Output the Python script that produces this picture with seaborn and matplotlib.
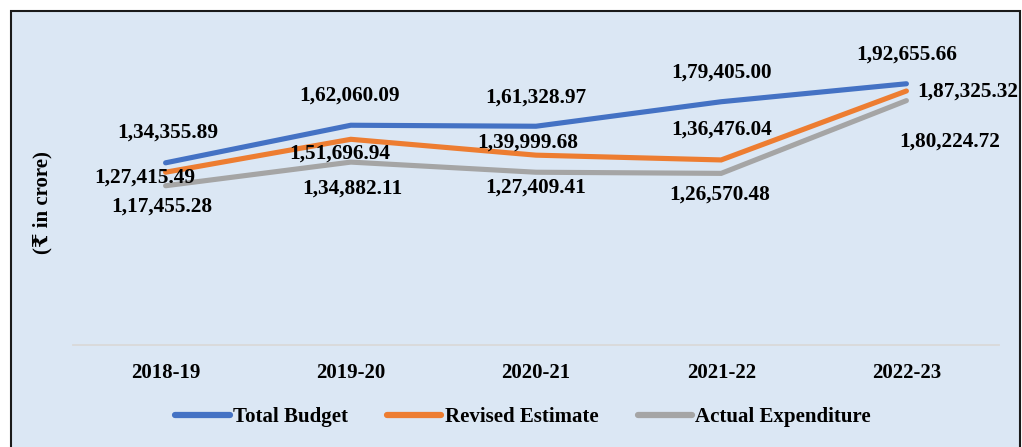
import matplotlib
matplotlib.use("Agg")
import matplotlib.pyplot as plt
from matplotlib.patches import Rectangle
from matplotlib.lines import Line2D
import pandas as pd
import seaborn as sns

# Financial years and the three budget series (₹ in crore)
years = ["2018-19", "2019-20", "2020-21", "2021-22", "2022-23"]
total_budget = [134355.89, 162060.09, 161328.97, 179405.00, 192655.66]
revised_estimate = [127415.49, 151696.94, 139999.68, 136476.04, 187325.32]
actual_expenditure = [117455.28, 134882.11, 127409.41, 126570.48, 180224.72]
series_names = ["Total Budget", "Revised Estimate", "Actual Expenditure"]
series_colors = ["#4472C4", "#ED7D31", "#A5A5A5"]

# Label offsets (pixels) relative to each point
label_offsets = {
    "Total Budget": [(2, 30), (-1, 30), (0, 29), (0, 29), (0, 29)],
    "Revised Estimate": [(-21, -5), (-11, -14), (-8, 13), (0, 30), (61, -1)],
    "Actual Expenditure": [(-4, -21), (2, -26), (0, -15), (-2, -21), (43, -41)],
}

df = pd.DataFrame({
    "Year": years * 3,
    "Value": total_budget + revised_estimate + actual_expenditure,
    "Series": [s for s in series_names for _ in years],
})


def indian_format(v):
    """Format a value with Indian digit grouping, e.g. 1,34,355.89."""
    cents = int(round(v * 100))
    whole, frac = divmod(cents, 100)
    lakh, rest = divmod(whole, 100000)
    return f"{lakh},{rest // 1000:02d},{rest % 1000:03d}.{frac:02d}"


sns.set_theme(style="white")
plt.rcParams["font.family"] = ["Liberation Serif", "DejaVu Serif", "DejaVu Sans"]
plt.rcParams["font.weight"] = "bold"
plt.rcParams["text.color"] = "black"

W, H = 1022, 447
fig = plt.figure(figsize=(W / 100, H / 100), dpi=100, facecolor="white")

# Chart area panel with border
fig.patches.append(Rectangle((11 / W, -0.05), (1020 - 11) / W, (H - 11) / H + 0.05,
                             transform=fig.transFigure, facecolor="#dbe7f4",
                             edgecolor="#1a1a1a", linewidth=1.5, zorder=-5))

ax = fig.add_axes([73 / W, 1 - 345 / H, (999 - 73) / W, 339 / H])
ax.set_facecolor("none")
ax.set_zorder(2)

sns.lineplot(data=df, x="Year", y="Value", hue="Series", hue_order=series_names,
             palette=series_colors, linewidth=3.7, sort=False, ax=ax, legend=False)
for line in ax.lines:
    line.set_solid_capstyle("round")
    line.set_solid_joinstyle("miter")

ax.set_xlim(-0.5, 4.5)
ax.set_ylim(0, 250000)
ax.set_yticks([])
ax.set_ylabel("")
ax.set_xlabel("")
for side in ["top", "right", "left"]:
    ax.spines[side].set_visible(False)
ax.spines["bottom"].set_color("#d9d9d9")
ax.spines["bottom"].set_linewidth(1.3)

ax.set_xticks(range(len(years)))
ax.set_xticklabels(years, fontsize=15, fontweight="bold", color="black")
ax.set_xticks([i - 0.5 for i in range(len(years) + 1)], minor=True)
ax.tick_params(axis="x", which="major", length=0, pad=13)
ax.tick_params(axis="x", which="minor", length=4, width=1.3, color="#d9d9d9", direction="out")

# Data labels
series_values = {"Total Budget": total_budget, "Revised Estimate": revised_estimate,
                 "Actual Expenditure": actual_expenditure}
for name in series_names:
    for i, v in enumerate(series_values[name]):
        dx, dy = label_offsets[name][i]
        ax.annotate(indian_format(v), (i, v), xytext=(dx, dy), textcoords="offset pixels",
                    ha="center", va="center", fontsize=15.3, fontweight="bold",
                    color="black", annotation_clip=False)

fig.text(42 / W, 1 - 203 / H, "(₹ in crore)", rotation=90, ha="center", va="center",
         fontsize=15, fontweight="bold", color="black")

# Legend
handles = [Line2D([0], [0], color=c, linewidth=4.5, solid_capstyle="round") for c in series_colors]
leg = fig.legend(handles, series_names, loc="center", bbox_to_anchor=(523 / W, 1 - 417 / H),
                 ncol=3, frameon=False, fontsize=15, handlelength=2.6, handletextpad=0.15,
                 columnspacing=1.9, borderpad=0)
for t in leg.get_texts():
    t.set_fontweight("bold")
    t.set_color("black")

fig.savefig("out.png", dpi=100, facecolor="white")
